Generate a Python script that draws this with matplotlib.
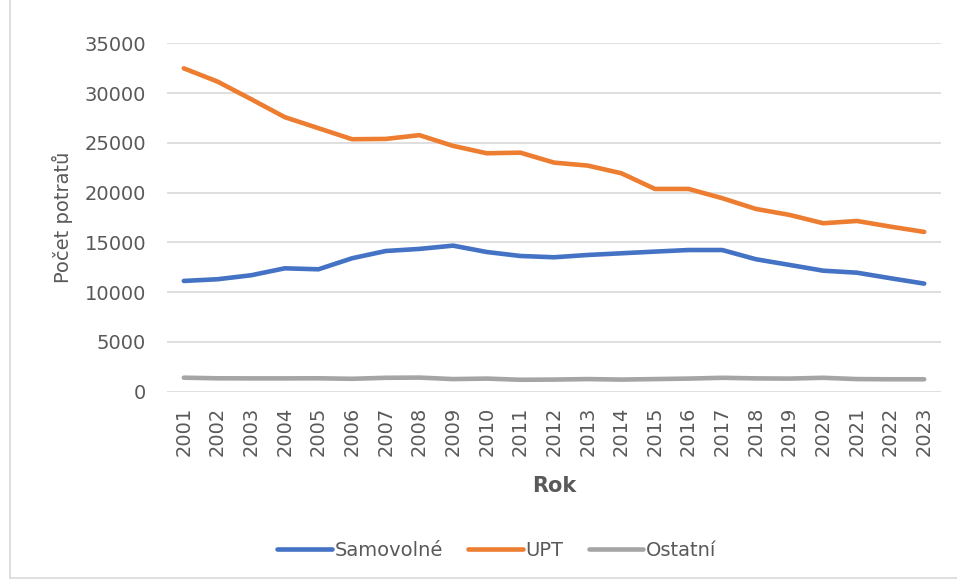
import matplotlib
matplotlib.use("Agg")
import matplotlib.pyplot as plt
from matplotlib.lines import Line2D

years = list(range(2001, 2024))
samovolne = [11120, 11290, 11690, 12390, 12290, 13400, 14130, 14340, 14670, 14030, 13630,
             13500, 13730, 13900, 14070, 14230, 14230, 13300, 12730, 12150, 11950, 11390, 10850]
upt = [32500, 31170, 29400, 27590, 26480, 25370, 25400, 25780, 24700, 23960, 24020,
       23020, 22720, 21950, 20370, 20370, 19440, 18360, 17760, 16920, 17150, 16580, 16050]
ostatni = [1390, 1330, 1320, 1320, 1330, 1280, 1380, 1400, 1250, 1300, 1180,
           1200, 1250, 1200, 1250, 1300, 1380, 1320, 1300, 1380, 1250, 1230, 1230]

txt = "#595959"
plt.rcParams['font.family'] = ['DejaVu Sans']

fig = plt.figure(figsize=(9.57, 5.82), dpi=100)
ax = fig.add_axes([0.1745, 0.3273, 0.8088, 0.598])

ax.plot(years, samovolne, color="#4472C4", lw=3.3, solid_capstyle='round', label="Samovolné")
ax.plot(years, upt, color="#ED7D31", lw=3.3, solid_capstyle='round', label="UPT")
ax.plot(years, ostatni, color="#A5A5A5", lw=3.3, solid_capstyle='round', label="Ostatní")

ax.set_xlim(2000.5, 2023.5)
ax.set_ylim(0, 35000)
ax.set_yticks(range(0, 35001, 5000))
ax.set_xticks(years)
ax.set_xticklabels([str(y) for y in years], rotation=90)
ax.grid(axis='y', color="#D9D9D9", lw=1.2)
ax.set_axisbelow(True)
for s in ax.spines.values():
    s.set_visible(False)
ax.tick_params(axis='both', length=0, labelsize=14, colors=txt)
ax.tick_params(axis='y', pad=15)
ax.tick_params(axis='x', pad=11)

ax.set_ylabel("Počet potratů", fontsize=14, color=txt, labelpad=8)
ax.set_xlabel("Rok", fontsize=15, fontweight='bold', color=txt, labelpad=14)

leg = fig.legend(loc='center', bbox_to_anchor=(497 / 957, 1 - 550 / 582), ncol=3,
                 frameon=False, fontsize=14, handlelength=2.8, handletextpad=0.15,
                 columnspacing=1.3)
for t in leg.get_texts():
    t.set_color(txt)

# chart frame
fig.add_artist(Line2D([10 / 957, 10 / 957], [4 / 582, 1], color="#D9D9D9", lw=1.2))
fig.add_artist(Line2D([10 / 957, 1], [4 / 582, 4 / 582], color="#D9D9D9", lw=1.2))

fig.savefig("out.png", dpi=100)
